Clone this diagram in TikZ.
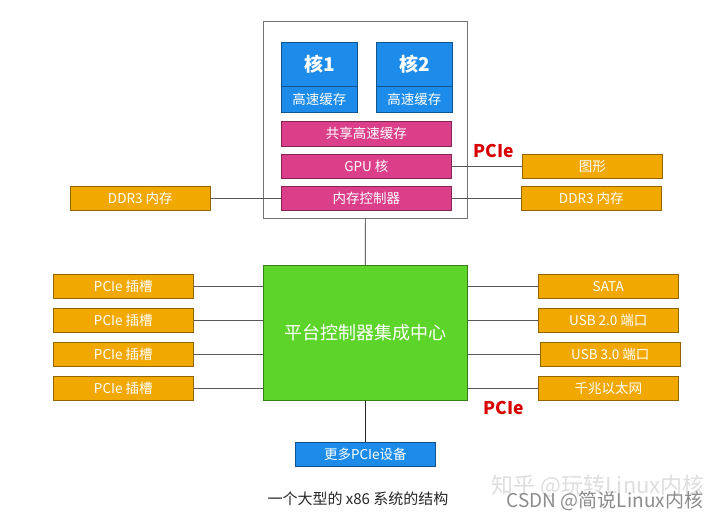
\documentclass[tikz,border=0pt]{standalone}
\usepackage{fontspec}
\setmainfont{Noto Sans CJK SC}
\begin{document}
\begin{tikzpicture}[x=1pt,y=-1pt,
  box/.style={draw=#1!60!black, line width=0.6pt, anchor=north west, inner sep=0pt, text=white, font=\fontsize{13.5}{13.5}\selectfont},
  lnk/.style={draw=black!65, line width=0.7pt},
  pcie/.style={text=red!85!black, font=\fontsize{17.5}{17.5}\selectfont\bfseries}]
\definecolor{cblue}{HTML}{1C8BEA}
\definecolor{cpink}{HTML}{DB3F8A}
\definecolor{corange}{HTML}{F1A800}
\definecolor{cgreen}{HTML}{5CD42A}
\useasboundingbox (0,0) rectangle (720,520);
\fill[white] (0,0) rectangle (720,520);
% CPU box
\node[draw=black!55, line width=0.7pt, anchor=north west, minimum width=204pt, minimum height=197pt, inner sep=0pt] (cpu) at (263,21) {};
% cores
\node[box=cblue, fill=cblue, minimum width=76pt, minimum height=44pt, font=\fontsize{19}{19}\selectfont\bfseries] (c1) at (281,42) {核1};
\node[box=cblue, fill=cblue, minimum width=76pt, minimum height=26pt] (c1c) at (281,86) {高速缓存};
\node[box=cblue, fill=cblue, minimum width=76pt, minimum height=44pt, font=\fontsize{19}{19}\selectfont\bfseries] (c2) at (376,42) {核2};
\node[box=cblue, fill=cblue, minimum width=76pt, minimum height=26pt] (c2c) at (376,86) {高速缓存};
\node[box=cpink, fill=cpink, minimum width=170pt, minimum height=25pt] (sc) at (281,121) {共享高速缓存};
\node[box=cpink, fill=cpink, minimum width=170pt, minimum height=24pt] (gpu) at (281,154) {GPU 核};
\node[box=cpink, fill=cpink, minimum width=170pt, minimum height=24pt] (mc) at (281,186) {内存控制器};
% side boxes top
\node[box=corange, fill=corange, minimum width=140pt, minimum height=24pt] (ddrl) at (70,186) {DDR3 内存};
\node[box=corange, fill=corange, minimum width=140pt, minimum height=24pt] (gfx) at (522,154) {图形};
\node[box=corange, fill=corange, minimum width=140pt, minimum height=24pt] (ddrr) at (521,186) {DDR3 内存};
\draw[lnk] (ddrl.east) -- (mc.west);
\draw[lnk] (mc.east) -- (ddrr.west);
\draw[lnk] (gpu.east) -- (gfx.west);
\node[pcie] (pl1) at (494,151) {PCIe};
% PCH
\node[draw=cgreen!60!black, fill=cgreen, line width=0.6pt, anchor=north west, minimum width=204pt, minimum height=135pt, inner sep=0pt, text=white, font=\fontsize{18}{18}\selectfont] (pch) at (263,265) {平台控制器集成中心};
\draw[lnk, black!85] (cpu.south) -- (pch.north);
% left slots
\foreach \i/\y in {1/274,2/308,3/342,4/376}{
  \node[box=corange, fill=corange, minimum width=140pt, minimum height=24pt] (s\i) at (53,\y) {PCIe 插槽};
  \draw[lnk] (s\i.east) -- (s\i.east -| pch.west);
}
% right
\node[box=corange, fill=corange, minimum width=140pt, minimum height=24pt] (r1) at (538,274) {SATA};
\node[box=corange, fill=corange, minimum width=140pt, minimum height=24pt] (r2) at (538,308) {USB 2.0 端口};
\node[box=corange, fill=corange, minimum width=140pt, minimum height=24pt] (r3) at (540,342) {USB 3.0 端口};
\node[box=corange, fill=corange, minimum width=140pt, minimum height=24pt] (r4) at (538,376) {千兆以太网};
\foreach \i in {1,2,3,4}{
  \draw[lnk] (r\i.west -| pch.east) -- (r\i.west);
}
\node[pcie] (pl2) at (504,408) {PCIe};
% more pcie
\node[box=cblue, fill=cblue, minimum width=140pt, minimum height=24pt] (more) at (295,442) {更多PCIe设备};
\draw[lnk, black!85] (pch.south) -- (more.north);
% caption
\node[font=\fontsize{15}{15}\selectfont, text=black!85] (cap) at (358,499) {一个大型的 x86 系统的结构};
% watermarks
\node[font=\fontsize{22}{22}\selectfont, text=black!13] (wm1) at (598,486) {知乎 @玩转Linux内核};
\node[font=\fontsize{19}{19}\selectfont, text=black!45] (wm2) at (605,501) {CSDN @简说Linux内核};
\end{tikzpicture}
\end{document}
